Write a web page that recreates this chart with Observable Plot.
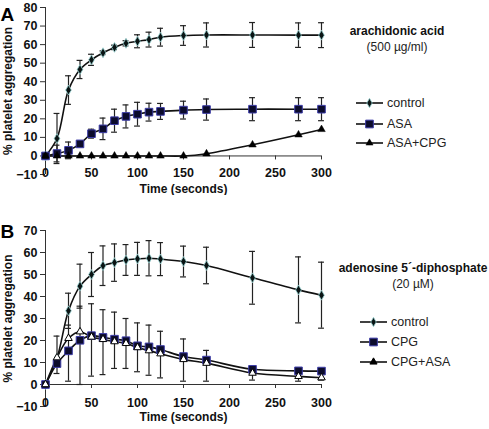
<!DOCTYPE html>
<html><head><meta charset="utf-8">
<script src="https://cdn.jsdelivr.net/npm/d3@7"></script>
<script src="https://cdn.jsdelivr.net/npm/@observablehq/plot@0.6"></script>
<style>
body{margin:0;background:#fff;font-family:"Liberation Sans",Arial,sans-serif;}
#wrap{width:489px;height:429px;overflow:hidden}
#wrap svg{display:block}
</style></head><body><div id="wrap"></div>
<script>
// time points (seconds)
const times = [0, 12.5, 25, 37.5, 50, 62.5, 75, 87.5, 100, 112.5, 125, 150, 175, 225, 275, 300];
const xTicks = [0, 50, 100, 150, 200, 250, 300];

// Panel A: arachidonic acid
const aYTicks = [-10, 0, 10, 20, 30, 40, 50, 60, 70, 80];
const aControl    = [0, 9.4, 35.5, 46.6, 51.8, 55.6, 58.5, 60.7, 61.8, 62.7, 64, 64.9, 65.2, 65.2, 65.1, 65.1];
const aControlErr = [0, 13.5, 7.7, 4.9, 3, 1, 1.2, 1.4, 3.5, 4, 4.8, 5.3, 6.5, 6.7, 6.6, 6.7];
const aASA        = [0, 1.3, 3, 6.5, 12, 14.6, 19, 21.3, 22.5, 23.6, 24, 24.7, 25, 25.2, 25.2, 25.2];
const aASAErr     = [0, 4.5, 4.5, 1, 2.4, 5.8, 6.2, 6.2, 6.4, 4.8, 4.3, 4.8, 5.7, 6.2, 6.2, 6.2];
const aASACPG     = [0, 0, 0, 0, 0, 0, 0, 0, 0, 0, 0, 0, 1.2, 6, 11.4, 14.3];
const aLegend = ["control", "ASA", "ASA+CPG"];
const aTitle = ["arachidonic acid", "(500 \u00b5g/ml)"];

// Panel B: adenosine 5'-diphosphate
const bYTicks = [-10, 0, 10, 20, 30, 40, 50, 60, 70];
const bControl    = [0, 12, 33.5, 44.7, 50, 54, 55.4, 56.6, 57.1, 57.4, 57, 55.9, 54.1, 48.5, 43, 40.6];
const bControlErr = [0, 0, 8, 10, 10, 9, 8.5, 7, 7.5, 8, 7.5, 7, 8.3, 12, 15, 15];
const bCPG        = [0, 9.5, 15.3, 20.1, 22.2, 21.4, 20.6, 19.9, 17.6, 17.1, 15.9, 12.7, 11.1, 6.9, 6.2, 6.1];
const bCPGErrUp   = [0, 12.5, 11.7, 15.5, 14.5, 12.6, 12.3, 10.1, 10.4, 9.9, 8.3, 8, 4.4, 1.1, 0.8, 0.4];
const bCPGErrDown = [0, 4.5, 13.8, 20.1, 18.4, 16.9, 13.3, 12.6, 11.8, 12.9, 12.9, 11.2, 9.6, 4.9, 4.7, 4.1];
const bCPGASA     = [0, 12.2, 21, 24, 21.6, 20.5, 19.5, 18.7, 16.8, 15.4, 14, 11.4, 9.7, 5.2, 3.7, 3.1];
const bLegend = ["control", "CPG", "CPG+ASA"];
const bTitle = ["adenosine 5\u00b4-diphosphate", "(20 \u00b5M)"];

const FONT = "Liberation Sans, Arial, sans-serif";

function rows(vals, up, down) {
  return times.map((t, i) => ({t, v: vals[i], lo: vals[i] - (down ? down[i] : 0), hi: vals[i] + (up ? up[i] : 0)}));
}

const styles = {
  control: {symbol: "diamond", r: 3, fill: "#0a1414", stroke: "#9ad6d6", strokeWidth: 0.8},
  square:  {symbol: "square", r: 4.3, fill: "#0c0c2c", stroke: "#3c3ca8", strokeWidth: 1},
  triA:    {symbol: "triangle", r: 2.8, fill: "#000", stroke: "#000", strokeWidth: 0.5},
  triB:    {symbol: "triangle", r: 2.8, fill: "#fff", stroke: "#000", strokeWidth: 1}
};

function panel(cfg) {
  const span = cfg.yDomain[1] - cfg.yDomain[0];
  const frameH = cfg.height - cfg.marginTop - cfg.marginBottom;
  const tickLen = 4 * span / frameH;
  const capW = 3.2;
  const marks = [
    Plot.ruleX([0], {stroke: "#333", strokeWidth: 1}),
    Plot.ruleY([0], {stroke: "#333", strokeWidth: 1}),
    Plot.ruleX(xTicks, {x: d => d, y1: 0, y2: -tickLen, stroke: "#333"}),
    Plot.axisY(cfg.yTicks, {tickSize: 5, tickPadding: 3, fontWeight: "bold", fontSize: 12.5, label: null, stroke: "#333", fill: "#111"}),
    Plot.text(xTicks, {x: d => d, y: cfg.yDomain[0], text: d => String(d), dy: cfg.xLabelDy, fontWeight: "bold", fontSize: 12.5, fill: "#111"}),
    Plot.text(["% platelet aggregation"], {frameAnchor: "left", textAnchor: "middle", lineAnchor: "middle", rotate: -90, dx: -37, fontWeight: "bold", fontSize: 12, fill: "#111"}),
    Plot.text(["Time (seconds)"], {frameAnchor: "bottom", lineAnchor: "middle", dy: cfg.timeDy, fontWeight: "bold", fontSize: 12, fill: "#111"}),
    Plot.text([cfg.letter], {frameAnchor: "top-left", textAnchor: "start", lineAnchor: "top", dx: -45, dy: cfg.letterDy, fontWeight: "bold", fontSize: 19, fill: "#000"})
  ];
  for (const s of cfg.series) {
    const withErr = s.data.filter(d => d.hi - d.lo > 0.01);
    marks.push(
      Plot.ruleX(withErr, {x: "t", y1: "lo", y2: "hi", stroke: "#222", strokeWidth: 1.2}),
      Plot.ruleY(withErr, {y: "hi", x1: d => d.t - capW, x2: d => d.t + capW, stroke: "#222", strokeWidth: 1.2}),
      Plot.ruleY(withErr, {y: "lo", x1: d => d.t - capW, x2: d => d.t + capW, stroke: "#222", strokeWidth: 1.2})
    );
  }
  for (const s of cfg.series) {
    marks.push(Plot.line(s.data, {x: "t", y: "v", curve: "catmull-rom", stroke: "#111", strokeWidth: 1.6}));
  }
  for (const s of cfg.series) {
    marks.push(Plot.dot(s.data, {x: "t", y: "v", ...styles[s.style]}));
  }
  const svg = Plot.plot({
    width: 489, height: cfg.height,
    marginLeft: 45, marginRight: 168, marginTop: cfg.marginTop, marginBottom: cfg.marginBottom,
    x: {domain: [0, 300], axis: null},
    y: {domain: cfg.yDomain, axis: null},
    style: {fontFamily: FONT, fontSize: "12.5px", background: "#fff", overflow: "hidden"},
    marks
  });
  const g = d3.select(svg).append("g").attr("font-family", FONT).attr("text-anchor", "start");
  g.append("text").attr("x", cfg.titleX).attr("y", cfg.titleY).attr("text-anchor", "middle")
    .attr("font-weight", "bold").attr("font-size", 12).attr("fill", "#111").text(cfg.title[0]);
  g.append("text").attr("x", cfg.titleX).attr("y", cfg.titleY + 16).attr("text-anchor", "middle")
    .attr("font-size", 12).attr("fill", "#222").text(cfg.title[1]);
  cfg.legend.forEach((name, i) => {
    const y = cfg.legendY[i];
    const x0 = cfg.legendX, x1 = cfg.legendX + 27, xm = (x0 + x1) / 2;
    g.append("line").attr("x1", x0).attr("x2", x1).attr("y1", y).attr("y2", y).attr("stroke", "#111").attr("stroke-width", 1.6);
    const st = styles[cfg.series[i].style];
    const sym = {diamond: d3.symbolDiamond, square: d3.symbolSquare, triangle: d3.symbolTriangle}[st.symbol];
    const area = st.symbol === "square" ? (2 * st.r) ** 2 * 0.8 : Math.PI * st.r * st.r * 0.9;
    g.append("path").attr("d", d3.symbol(sym, area)()).attr("transform", `translate(${xm},${y})`)
      .attr("fill", st.symbol === "triangle" ? "#000" : st.fill).attr("stroke", st.stroke).attr("stroke-width", st.strokeWidth);
    g.append("text").attr("x", x1 + 4).attr("y", y).attr("dy", "0.35em").attr("text-anchor", "start")
      .attr("font-size", 12.5).attr("fill", "#222").text(name);
  });
  return svg;
}

const wrap = document.getElementById("wrap");
wrap.appendChild(panel({
  height: 195, marginTop: 7, marginBottom: 21, yDomain: [-10, 80], yTicks: aYTicks,
  xLabelDy: -2, timeDy: 15, letter: "A", letterDy: 0,
  series: [
    {data: rows(aControl, aControlErr, aControlErr), style: "control"},
    {data: rows(aASA, aASAErr, aASAErr), style: "square"},
    {data: rows(aASACPG), style: "triA"}
  ],
  title: aTitle, titleX: 397, titleY: 35,
  legend: aLegend, legendX: 356, legendY: [103, 124, 143]
}));
wrap.appendChild(panel({
  height: 234, marginTop: 35, marginBottom: 23, yDomain: [-10, 70], yTicks: bYTicks,
  xLabelDy: -4, timeDy: 11, letter: "B", letterDy: -6,
  series: [
    {data: rows(bControl, bControlErr, bControlErr), style: "control"},
    {data: rows(bCPG, bCPGErrUp, bCPGErrDown), style: "square"},
    {data: rows(bCPGASA), style: "triB"}
  ],
  title: bTitle, titleX: 413, titleY: 77,
  legend: bLegend, legendX: 360, legendY: [127, 147, 167]
}));
</script></body></html>
